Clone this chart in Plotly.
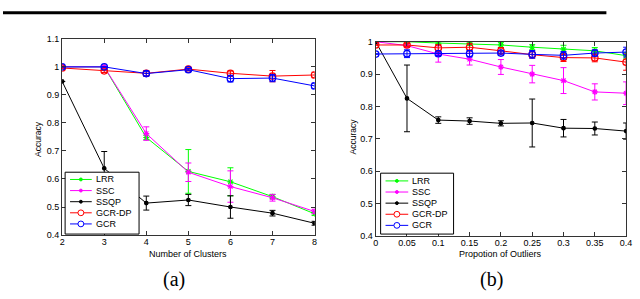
import plotly.graph_objects as go

# ---------------- data: panel (a) ----------------
clusters = [2, 3, 4, 5, 6, 7, 8]
a_lrr = [1.0, 1.0, 0.748, 0.627, 0.59, 0.537, 0.476]
a_lrr_err = [0, 0, 0.008, 0.078, 0.05, 0.008, 0.006]
a_ssc = [1.0, 1.0, 0.762, 0.624, 0.573, 0.533, 0.484]
a_ssc_err = [0, 0, 0.024, 0.033, 0.056, 0.012, 0.008]
a_ssqp = [0.948, 0.638, 0.514, 0.525, 0.50, 0.478, 0.442]
a_ssqp_err = [0, 0.06, 0.025, 0.02, 0.04, 0.01, 0.007]
a_gcrdp = [0.996, 0.986, 0.977, 0.992, 0.977, 0.967, 0.971]
a_gcrdp_err = [0, 0.006, 0.01, 0.005, 0.008, 0.02, 0.01]
a_gcr = [1.0, 1.0, 0.976, 0.99, 0.958, 0.96, 0.932]
a_gcr_err = [0, 0, 0.008, 0.004, 0.012, 0.013, 0.01]

# ---------------- data: panel (b) ----------------
outliers = [0, 0.05, 0.1, 0.15, 0.2, 0.25, 0.3, 0.35, 0.4]
outlier_labels = ["0", "0.05", "0.1", "0.15", "0.2", "0.25", "0.3", "0.35", "0.4"]
b_lrr = [1.0, 1.0, 0.996, 0.994, 0.99, 0.983, 0.977, 0.972, 0.957]
b_lrr_err = [0, 0.003, 0.005, 0.005, 0.008, 0.008, 0.012, 0.01, 0.01]
b_ssc = [1.0, 0.988, 0.962, 0.946, 0.922, 0.90, 0.88, 0.845, 0.841]
b_ssc_err = [0, 0.006, 0.025, 0.018, 0.023, 0.027, 0.04, 0.025, 0.035]
b_ssqp = [1.0, 0.825, 0.758, 0.755, 0.748, 0.749, 0.733, 0.732, 0.724]
b_ssqp_err = [0, 0.103, 0.01, 0.01, 0.008, 0.074, 0.027, 0.02, 0.025]
b_gcrdp = [0.99, 0.99, 0.981, 0.983, 0.972, 0.96, 0.951, 0.95, 0.937]
b_gcrdp_err = [0, 0.005, 0.01, 0.012, 0.01, 0.01, 0.012, 0.012, 0.025]
b_gcr = [0.962, 0.963, 0.963, 0.963, 0.965, 0.961, 0.958, 0.965, 0.968]
b_gcr_err = [0, 0.012, 0.005, 0.01, 0.006, 0.012, 0.012, 0.01, 0.015]

names = ["LRR", "SSC", "SSQP", "GCR-DP", "GCR"]
colors = ["#00ff00", "#ff00ff", "#000000", "#ff0000", "#0000ff"]
symbols = ["asterisk-open", "asterisk-open", "circle", "circle-open", "circle-open"]
msizes = [5, 5, 3.5, 6.5, 6.5]

W, H = 640, 299


def px(x):
    return x / W


def py(y):
    return 1 - y / H


fig = go.Figure()

series_a = [(a_lrr, a_lrr_err), (a_ssc, a_ssc_err), (a_ssqp, a_ssqp_err),
            (a_gcrdp, a_gcrdp_err), (a_gcr, a_gcr_err)]
series_b = [(b_lrr, b_lrr_err), (b_ssc, b_ssc_err), (b_ssqp, b_ssqp_err),
            (b_gcrdp, b_gcrdp_err), (b_gcr, b_gcr_err)]

for xs, series, xa, ya in [(clusters, series_a, "x", "y"), (outliers, series_b, "x2", "y2")]:
    for i, (vals, errs) in enumerate(series):
        fig.add_trace(go.Scatter(
            x=xs, y=vals, name=names[i], mode="lines+markers",
            line=dict(color=colors[i], width=1),
            marker=dict(symbol=symbols[i], size=msizes[i], color=colors[i],
                        line=dict(color=colors[i], width=1.2)),
            error_y=dict(type="data", array=errs, visible=True, color=colors[i],
                         thickness=1, width=3),
            xaxis=xa, yaxis=ya, showlegend=False))

tickfont = dict(family="Liberation Sans, Arial", size=9, color="black")
axis_common = dict(showline=True, linecolor="#333333", linewidth=1, mirror="allticks",
                   ticks="inside", ticklen=4, tickcolor="#333333", showgrid=False,
                   zeroline=False, tickfont=tickfont)

fig.update_layout(
    width=W, height=H, margin=dict(l=0, r=0, t=0, b=0),
    paper_bgcolor="white", plot_bgcolor="white", showlegend=False,
    xaxis=dict(domain=[px(60), px(316)], range=[2, 8], dtick=1, anchor="y",
               ticklabelstandoff=-2, **axis_common),
    yaxis=dict(domain=[py(238), py(35)], range=[0.4, 1.1], anchor="x",
               tickvals=[0.4, 0.5, 0.6, 0.7, 0.8, 0.9, 1.0, 1.1],
               ticktext=["0.4", "0.5", "0.6", "0.7", "0.8", "0.9", "1", "1.1"], **axis_common),
    xaxis2=dict(domain=[px(378), px(632)], range=[0, 0.4], anchor="y2",
                tickvals=outliers, ticktext=outlier_labels, ticklabelstandoff=-2,
                **axis_common),
    yaxis2=dict(domain=[py(239), py(38)], range=[0.4, 1.0], anchor="x2",
                tickvals=[0.4, 0.5, 0.6, 0.7, 0.8, 0.9, 1.0],
                ticktext=["0.4", "0.5", "0.6", "0.7", "0.8", "0.9", "1"], **axis_common),
)

annots = [
    dict(text="Number of Clusters", x=px(188), y=py(258), size=9, angle=0, fam="Liberation Sans, Arial"),
    dict(text="Propotion of Outliers", x=px(505), y=py(258), size=9, angle=0, fam="Liberation Sans, Arial"),
    dict(text="Accuracy", x=px(36), y=py(138), size=8.5, angle=-90, fam="Liberation Sans, Arial"),
    dict(text="Accuracy", x=px(355), y=py(136), size=8.5, angle=-90, fam="Liberation Sans, Arial"),
    dict(text="(a)", x=px(173), y=py(284), size=20, angle=0, fam="Liberation Serif, DejaVu Serif"),
    dict(text="(b)", x=px(495), y=py(284), size=20, angle=0, fam="Liberation Serif, DejaVu Serif"),
]
for a in annots:
    fig.add_annotation(text=a["text"], x=a["x"], y=a["y"], xref="paper", yref="paper",
                       showarrow=False, textangle=a["angle"], xanchor="center", yanchor="middle",
                       font=dict(family=a["fam"], size=a["size"], color="black"))

# top rule (page separator)
fig.add_shape(type="line", xref="paper", yref="paper", x0=0, x1=px(612), y0=py(8), y1=py(8),
              line=dict(color="black", width=3))


# hand-drawn compact legends (MATLAB style)
def draw_legend(box, rows, line_x0, line_x1, text_x):
    x0, y0, x1, y1 = box
    fig.add_shape(type="rect", xref="paper", yref="paper", layer="above",
                  x0=px(x0), x1=px(x1), y0=py(y1), y1=py(y0),
                  line=dict(color="black", width=1), fillcolor="white")
    mx = (line_x0 + line_x1) / 2
    for i, ry in enumerate(rows):
        c = colors[i]
        fig.add_shape(type="line", xref="paper", yref="paper", layer="above",
                      x0=px(line_x0), x1=px(line_x1), y0=py(ry), y1=py(ry),
                      line=dict(color=c, width=1))
        r = 3 if i >= 3 else 1.5
        fig.add_shape(type="circle", xref="paper", yref="paper", layer="above",
                      x0=px(mx - r), x1=px(mx + r), y0=py(ry + r), y1=py(ry - r),
                      line=dict(color=c, width=1),
                      fillcolor="white" if i >= 3 else c)
        fig.add_annotation(text=names[i], x=px(text_x), y=py(ry), xref="paper", yref="paper",
                           showarrow=False, xanchor="left", yanchor="middle",
                           font=dict(family="Liberation Sans, Arial", size=9, color="black"))


draw_legend((63, 173, 138, 237), [180.5, 192, 203.5, 215, 226.5], 68, 90, 92)
draw_legend((383, 174, 457, 237), [182, 193.5, 205, 216.5, 228], 388, 411, 413)

fig.write_html("out.html", config={"displayModeBar": False},
               post_script="document.documentElement.style.margin='0';"
                           "document.body.style.margin='0';document.body.style.padding='0';")
